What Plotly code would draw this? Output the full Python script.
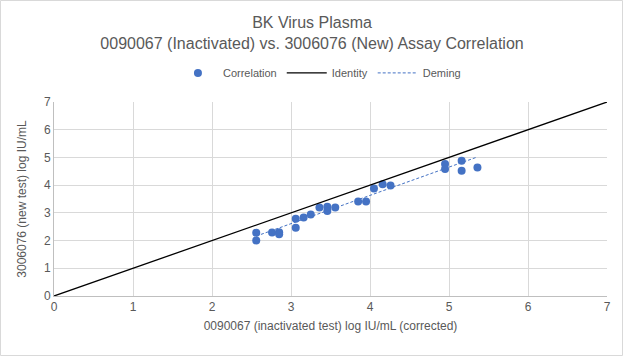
import plotly.graph_objects as go

x_inactivated = [2.56, 2.56, 2.76, 2.85, 2.85, 3.06, 3.06, 3.16, 3.25, 3.36, 3.46, 3.46,
                 3.56, 3.85, 3.95, 4.05, 4.16, 4.26, 4.95, 4.95, 5.16, 5.16, 5.36]
y_new = [2.28, 2.00, 2.29, 2.30, 2.23, 2.79, 2.46, 2.83, 2.94, 3.19, 3.22, 3.07,
         3.19, 3.41, 3.41, 3.88, 4.03, 3.99, 4.76, 4.58, 4.88, 4.52, 4.64]

identity_range = [0, 7]
deming_slope = 1.02
deming_intercept = -0.45

tick_vals = [0, 1, 2, 3, 4, 5, 6, 7]

deming_x = [min(x_inactivated), max(x_inactivated)]
deming_y = [deming_intercept + deming_slope * v for v in deming_x]

FONT = "Liberation Sans, Arial, sans-serif"
GRAY = "#595959"
BLUE = "#4472C4"

fig = go.Figure()
fig.add_trace(go.Scatter(x=x_inactivated, y=y_new, mode="markers", name="Correlation",
                         marker=dict(color=BLUE, size=8)))
fig.add_trace(go.Scatter(x=identity_range, y=identity_range, mode="lines", name="Identity",
                         line=dict(color="black", width=1.3)))
fig.add_trace(go.Scatter(x=deming_x, y=deming_y, mode="lines", name="Deming",
                         line=dict(color=BLUE, width=1, dash="3px,2px")))

W, H = 624, 356
ml, mr, mt, mb = 54, 17, 102, 60
pw, ph = W - ml - mr, H - mt - mb

fig.update_layout(
    width=W, height=H,
    margin=dict(l=ml, r=mr, t=mt, b=mb),
    paper_bgcolor="white", plot_bgcolor="white",
    font=dict(family=FONT, color=GRAY, size=12),
    title=dict(text="BK Virus Plasma<br>0090067 (Inactivated) vs. 3006076 (New) Assay Correlation",
               x=0.5, xanchor="center", y=0.92, yanchor="top",
               font=dict(family=FONT, size=16, color=GRAY)),
    legend=dict(orientation="h", x=0.48, xanchor="center", y=1.15, yanchor="middle",
                font=dict(size=11, color=GRAY), itemwidth=40),
    showlegend=True,
    xaxis=dict(range=[0, 7], tickvals=tick_vals, showgrid=True, gridcolor="#d9d9d9",
               zeroline=False, showline=True, linecolor="#bfbfbf", ticks="",
               tickfont=dict(size=12, color=GRAY),
               title=dict(text="0090067 (inactivated test) log IU/mL (corrected)",
                          font=dict(size=12, color=GRAY), standoff=8)),
    yaxis=dict(range=[0, 7], tickvals=tick_vals, showgrid=True, gridcolor="#d9d9d9",
               zeroline=False, showline=True, linecolor="#bfbfbf", ticks="",
               tickfont=dict(size=12, color=GRAY),
               title=dict(text="3006076 (new test) log IU/mL",
                          font=dict(size=12, color=GRAY), standoff=14)),
    shapes=[dict(type="rect", xref="paper", yref="paper",
                 x0=-ml / pw + 0.5 / pw, x1=1 + (mr - 1.5) / pw,
                 y0=-mb / ph + 0.5 / ph, y1=1 + (mt - 0.5) / ph,
                 line=dict(color="#d9d9d9", width=1), layer="below")],
)

fig.write_html("out.html", config={"displayModeBar": False},
               post_script="document.body.style.margin='0';document.body.style.overflow='hidden';")
